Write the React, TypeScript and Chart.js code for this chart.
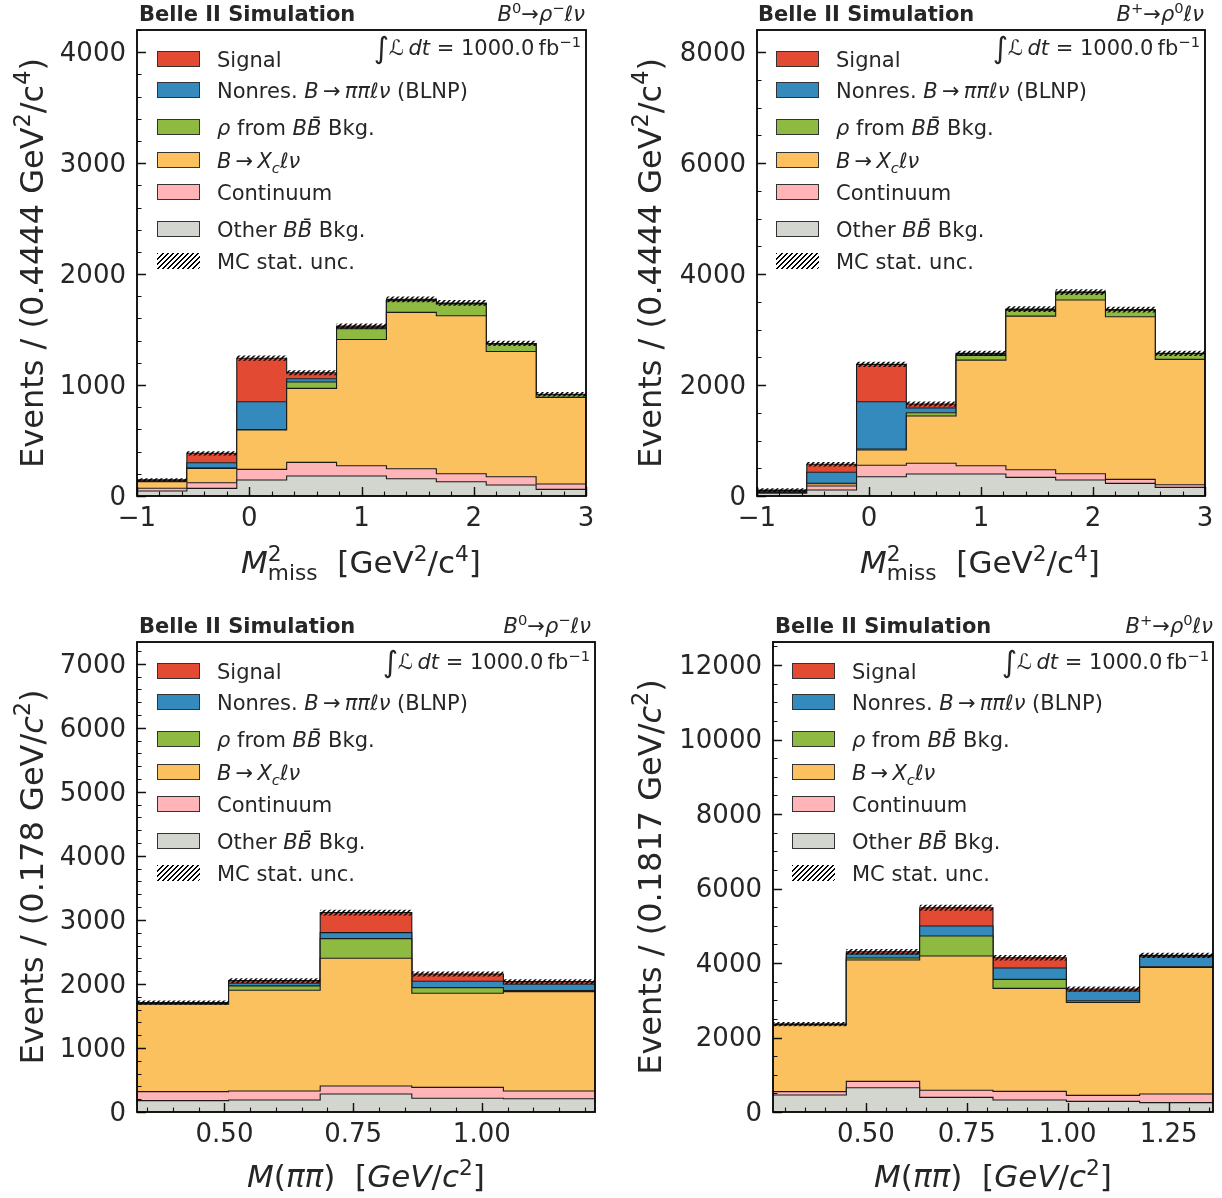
import React, { useEffect, useRef } from 'react';
import { Chart, registerables } from 'chart.js';

Chart.register(...registerables);
Chart.defaults.font.family = "'DejaVu Sans', sans-serif";

// ---------------- DATA ----------------
// Component order (bottom -> top)
const COMPONENT_NAMES = ['Other BB̄ Bkg.', 'Continuum', 'B→Xcℓν', 'ρ from BB̄ Bkg.', 'Nonres. B→ππℓν (BLNP)', 'Signal'];
const COMPONENT_COLORS = ['#D3D5CF', '#FFB5B8', '#FBC15E', '#8EBA42', '#348ABD', '#E24A33'];

// Panel 1: B0 -> rho- l nu, M2miss
const P1_OTHER = [45, 69, 144, 180, 180, 156, 129, 99, 60];
const P1_CONT = [25, 51, 96, 123, 93, 90, 72, 75, 48];
const P1_XC = [60, 129, 355, 667, 1138, 1409, 1423, 1129, 781];
const P1_RHO = [2, 3, 5, 57, 96, 105, 106, 66, 24];
const P1_NONRES = [5, 48, 249, 30, 8, 5, 4, 3, 2];
const P1_SIGNAL = [10, 85, 393, 54, 16, 7, 6, 3, 2];
const P1_UNC = [13, 19, 24, 22, 24, 26, 26, 24, 21];
const P1_X_TICKS = [-1, 0, 1, 2, 3];
const P1_X_LABELS = ['−1', '0', '1', '2', '3'];
const P1_Y_TICKS = [0, 1000, 2000, 3000, 4000];

// Panel 2: B+ -> rho0 l nu, M2miss
const P2_OTHER = [50, 108, 348, 396, 396, 336, 288, 228, 156];
const P2_CONT = [15, 72, 205, 193, 150, 138, 114, 72, 48];
const P2_XC = [20, 40, 276, 852, 1904, 2769, 3130, 2931, 2258];
const P2_RHO = [3, 10, 18, 60, 85, 108, 131, 120, 105];
const P2_NONRES = [10, 197, 853, 85, 20, 10, 7, 5, 3];
const P2_SIGNAL = [8, 144, 672, 72, 16, 8, 5, 3, 2];
const P2_UNC = [32, 40, 48, 45, 48, 51, 53, 51, 48];
const P2_X_TICKS = [-1, 0, 1, 2, 3];
const P2_X_LABELS = ['−1', '0', '1', '2', '3'];
const P2_Y_TICKS = [0, 2000, 4000, 6000, 8000];

// Panel 3: B0 -> rho- l nu, M(pipi)
const P3_OTHER = [177, 187, 281, 214, 208];
const P3_CONT = [141, 141, 125, 171, 120];
const P3_XC = [1364, 1573, 1995, 1469, 1552];
const P3_RHO = [10, 68, 307, 89, 15];
const P3_NONRES = [10, 41, 94, 99, 100];
const P3_SIGNAL = [6, 42, 313, 114, 41];
const P3_UNC = [35, 38, 45, 38, 38];
const P3_X_TICKS = [0.5, 0.75, 1.0];
const P3_X_LABELS = ['0.50', '0.75', '1.00'];
const P3_Y_TICKS = [0, 1000, 2000, 3000, 4000, 5000, 6000, 7000];

// Panel 4: B+ -> rho0 l nu, M(pipi)
const P4_OTHER = [456, 653, 394, 322, 286, 251];
const P4_CONT = [90, 170, 188, 233, 161, 232];
const P4_XC = [1790, 3257, 3606, 2765, 2497, 3401];
const P4_RHO = [10, 54, 537, 242, 45, 18];
const P4_NONRES = [10, 108, 268, 304, 259, 268];
const P4_SIGNAL = [5, 62, 492, 277, 54, 36];
const P4_UNC = [56, 72, 80, 72, 67, 72];
const P4_X_TICKS = [0.5, 0.75, 1.0, 1.25];
const P4_X_LABELS = ['0.50', '0.75', '1.00', '1.25'];
const P4_Y_TICKS = [0, 2000, 4000, 6000, 8000, 10000, 12000];

const TEXT = '#262626';

// ---------------- HELPERS ----------------
function makeHatch(): CanvasPattern | string {
  const s = 5;
  const c = document.createElement('canvas');
  c.width = s;
  c.height = s;
  const g = c.getContext('2d');
  if (!g) return 'rgba(0,0,0,0.5)';
  g.strokeStyle = '#000';
  g.lineWidth = 1.5;
  g.beginPath();
  g.moveTo(0, s); g.lineTo(s, 0);
  g.moveTo(-1, 1); g.lineTo(1, -1);
  g.moveTo(s - 1, s + 1); g.lineTo(s + 1, s - 1);
  g.stroke();
  return g.createPattern(c, 'repeat') || '#000';
}

function histPoints(edges: number[], vals: number[]) {
  const pts = vals.map((v, i) => ({ x: edges[i], y: v }));
  pts.push({ x: edges[vals.length], y: vals[vals.length - 1] });
  return pts;
}

const frameTicksPlugin = {
  id: 'frameTicks',
  afterDatasetsDraw(chart: any, _args: any, opts: any) {
    const { ctx, chartArea: a, scales } = chart;
    const xs = scales.x;
    const ys = scales.y;
    ctx.save();
    ctx.strokeStyle = '#111';
    ctx.lineWidth = 1.1;
    ctx.beginPath();
    const xMinor = opts.xMinor as number;
    const yMinor = opts.yMinor as number;
    for (let k = Math.ceil(xs.min / xMinor - 1e-9); k * xMinor <= xs.max + 1e-9; k++) {
      const px = Math.round(xs.getPixelForValue(k * xMinor)) + 0.5;
      ctx.moveTo(px, a.bottom);
      ctx.lineTo(px, a.bottom - 4.5);
    }
    for (let k = Math.ceil(ys.min / yMinor - 1e-9); k * yMinor <= ys.max + 1e-9; k++) {
      const py = Math.round(ys.getPixelForValue(k * yMinor)) + 0.5;
      ctx.moveTo(a.left, py);
      ctx.lineTo(a.left + 4.5, py);
    }
    ctx.stroke();
    ctx.lineWidth = 1.4;
    ctx.beginPath();
    xs.ticks.forEach((t: any) => {
      const px = Math.round(xs.getPixelForValue(t.value)) + 0.5;
      ctx.moveTo(px, a.bottom);
      ctx.lineTo(px, a.bottom - 9);
    });
    ys.ticks.forEach((t: any) => {
      const py = Math.round(ys.getPixelForValue(t.value)) + 0.5;
      ctx.moveTo(a.left, py);
      ctx.lineTo(a.left + 9, py);
    });
    ctx.stroke();
    ctx.lineWidth = 1.8;
    ctx.strokeStyle = '#000';
    ctx.strokeRect(a.left, a.top, a.right - a.left, a.bottom - a.top);
    ctx.restore();
  },
};

type Box = { left: number; top: number; width: number; height: number; padTop: number; padRight: number; yW: number; xH: number };

type PanelProps = {
  box: Box;
  xMin: number;
  xMax: number;
  yMax: number;
  xTicks: number[];
  xLabels: string[];
  yTicks: number[];
  xMinor: number;
  yMinor: number;
  series: number[][];
  unc: number[];
};

function HistPanel(p: PanelProps) {
  const ref = useRef<HTMLCanvasElement>(null);
  useEffect(() => {
    const canvas = ref.current;
    if (!canvas) return;
    const hatch = makeHatch();
    const n = p.series[0].length;
    const edges = Array.from({ length: n + 1 }, (_, i) => p.xMin + (i * (p.xMax - p.xMin)) / n);
    const totals = p.series[0].map((_, i) => p.series.reduce((s, arr) => s + arr[i], 0));
    const datasets: any[] = p.series.map((vals, k) => ({
      label: COMPONENT_NAMES[k],
      data: histPoints(edges, vals),
      stepped: true,
      fill: k === 0 ? 'origin' : '-1',
      backgroundColor: COMPONENT_COLORS[k],
      borderColor: '#1a1a1a',
      borderWidth: 1.1,
      pointRadius: 0,
      pointHoverRadius: 0,
      order: 0,
    }));
    datasets.push({
      label: 'unc-lo',
      data: histPoints(edges, totals.map((t, i) => t - p.unc[i])),
      stack: 'lo',
      stepped: true,
      fill: false,
      borderColor: 'rgba(0,0,0,0)',
      borderWidth: 1,
      pointRadius: 0,
      order: -1,
    });
    datasets.push({
      label: 'MC stat. unc.',
      data: histPoints(edges, totals.map((t, i) => t + p.unc[i])),
      stack: 'hi',
      stepped: true,
      fill: '-1',
      backgroundColor: hatch,
      borderColor: 'rgba(0,0,0,0)',
      borderWidth: 1,
      pointRadius: 0,
      order: -1,
    });
    const chart = new Chart(canvas, {
      type: 'line',
      data: { datasets },
      options: {
        responsive: false,
        animation: false,
        events: [],
        layout: { padding: { top: p.box.padTop, right: p.box.padRight, left: 0, bottom: 0 } },
        plugins: {
          legend: { display: false },
          tooltip: { enabled: false },
          frameTicks: { xMinor: p.xMinor, yMinor: p.yMinor },
        } as any,
        scales: {
          x: {
            type: 'linear',
            min: p.xMin,
            max: p.xMax,
            grid: { display: false, drawTicks: false },
            border: { display: false },
            ticks: {
              font: { size: 26 },
              color: TEXT,
              padding: 8,
              maxRotation: 0,
              autoSkip: false,
              callback: (_v: any, i: number) => p.xLabels[i],
            },
            afterBuildTicks: (s: any) => {
              s.ticks = p.xTicks.map((v) => ({ value: v }));
            },
            afterFit: (s: any) => {
              s.height = p.box.xH;
            },
          },
          y: {
            type: 'linear',
            stacked: true,
            min: 0,
            max: p.yMax,
            grid: { display: false, drawTicks: false },
            border: { display: false },
            ticks: {
              font: { size: 26 },
              color: TEXT,
              padding: 11,
              labelOffset: 2,
              autoSkip: false,
              callback: (v: any) => String(v),
            },
            afterBuildTicks: (s: any) => {
              s.ticks = p.yTicks.map((v) => ({ value: v }));
            },
            afterFit: (s: any) => {
              s.width = p.box.yW;
            },
          },
        } as any,
      },
      plugins: [frameTicksPlugin as any],
    });
    return () => chart.destroy();
  }, []);
  return (
    <canvas
      ref={ref}
      width={p.box.width}
      height={p.box.height}
      style={{ position: 'absolute', left: p.box.left, top: p.box.top, width: p.box.width, height: p.box.height }}
    />
  );
}

// ---------------- TEXT PIECES ----------------
const supS: React.CSSProperties = { fontSize: '0.7em', lineHeight: 0, verticalAlign: '0.55em' };
const subS: React.CSSProperties = { fontSize: '0.7em', lineHeight: 0, verticalAlign: '-0.3em' };
const I = (t: string) => <i>{t}</i>;
const BBbar = (
  <i>
    B{'B\u0304'}
  </i>
);

function Txt(props: { x: number; y: number; align?: 'left' | 'right' | 'center'; size: number; bold?: boolean; rotate?: boolean; children: React.ReactNode }) {
  const { x, y, align = 'left', size, bold, rotate, children } = props;
  let tr = 'translateY(-50%)';
  if (align === 'right') tr = 'translate(-100%,-50%)';
  if (align === 'center') tr = 'translate(-50%,-50%)';
  if (rotate) tr = 'translate(-50%,-50%) rotate(-90deg)';
  const dx = rotate ? 2 : 0;
  const dy = rotate ? 0 : 2;
  return (
    <div
      style={{
        position: 'absolute',
        left: x + dx,
        top: y + dy,
        transform: tr,
        whiteSpace: 'nowrap',
        fontSize: size,
        lineHeight: 1.2,
        fontWeight: bold ? 'bold' : 'normal',
        color: TEXT,
        fontFamily: "'DejaVu Sans', sans-serif",
      }}
    >
      {children}
    </div>
  );
}

const LEGEND_ITEMS: { color: string | null; label: React.ReactNode }[] = [
  { color: '#E24A33', label: 'Signal' },
  { color: '#348ABD', label: <>Nonres. {I('B')}{'\u2009→\u2009'}{I('ππℓν')} (BLNP)</> },
  { color: '#8EBA42', label: <>{I('ρ')} from {BBbar} Bkg.</> },
  { color: '#FBC15E', label: <>{I('B')}{'\u2009→\u2009'}{I('X')}<span style={subS}><i>c</i></span>{I('ℓν')}</> },
  { color: '#FFB5B8', label: 'Continuum' },
  { color: '#D3D5CF', label: <>Other {BBbar} Bkg.</> },
  { color: null, label: 'MC stat. unc.' },
];

function Legend(props: { x: number; rows: number[] }) {
  return (
    <>
      {LEGEND_ITEMS.map((it, i) => (
        <React.Fragment key={i}>
          <div
            style={{
              position: 'absolute',
              left: props.x,
              top: props.rows[i] - 8,
              width: 43,
              height: 16,
              boxSizing: 'border-box',
              border: it.color ? '1px solid #333' : 'none',
              background: it.color
                ? it.color
                : 'repeating-linear-gradient(135deg, #000 0px, #000 1.4px, rgba(0,0,0,0) 1.4px, rgba(0,0,0,0) 3.6px)',
            }}
          />
          <Txt x={props.x + 60} y={props.rows[i]} size={21}>
            {it.label}
          </Txt>
        </React.Fragment>
      ))}
    </>
  );
}

const Lumi = (
  <>
    <span style={{ fontSize: '1.4em', lineHeight: 0, verticalAlign: '-0.08em' }}>∫</span>ℒ{'\u2009'}
    <i>dt</i> = 1000.0{'\u2009'}fb<span style={supS}>−1</span>
  </>
);

const HeaderB0 = (
  <>
    <i>B</i><span style={supS}>0</span>→<i>ρ</i><span style={supS}>−</span>
    <i>ℓν</i>
  </>
);
const HeaderBp = (
  <>
    <i>B</i><span style={supS}>+</span>→<i>ρ</i><span style={supS}>0</span>
    <i>ℓν</i>
  </>
);

const XTitleMiss = (
  <>
    <i>M</i>
    <span style={supS}>2</span>
    <span style={{ ...subS, marginLeft: '-0.636em' }}>miss</span>
    {'\u00a0\u00a0'}[GeV<span style={supS}>2</span>/c<span style={supS}>4</span>]
  </>
);
const XTitlePiPi = (
  <>
    <i>M</i>(<i>ππ</i>){'\u00a0\u00a0'}[<i>GeV</i>/<i>c</i>
    <span style={supS}>2</span>]
  </>
);

export default function App() {
  const rowsTop = [59, 90, 127, 160, 192, 229, 261];
  const rowsBot = rowsTop.map((r) => r + 612);
  return (
    <div style={{ position: 'absolute', left: 0, top: 0, width: 1222, height: 1198, background: '#fff', overflow: 'hidden' }}>
      <HistPanel
        box={{ left: 0, top: 0, width: 611, height: 600, padTop: 30, padRight: 25, yW: 137, xH: 104 }}
        xMin={-1}
        xMax={3}
        yMax={4200}
        xTicks={P1_X_TICKS}
        xLabels={P1_X_LABELS}
        yTicks={P1_Y_TICKS}
        xMinor={0.2}
        yMinor={200}
        series={[P1_OTHER, P1_CONT, P1_XC, P1_RHO, P1_NONRES, P1_SIGNAL]}
        unc={P1_UNC}
      />
      <HistPanel
        box={{ left: 611, top: 0, width: 611, height: 600, padTop: 30, padRight: 17, yW: 146, xH: 104 }}
        xMin={-1}
        xMax={3}
        yMax={8400}
        xTicks={P2_X_TICKS}
        xLabels={P2_X_LABELS}
        yTicks={P2_Y_TICKS}
        xMinor={0.2}
        yMinor={500}
        series={[P2_OTHER, P2_CONT, P2_XC, P2_RHO, P2_NONRES, P2_SIGNAL]}
        unc={P2_UNC}
      />
      <HistPanel
        box={{ left: 0, top: 600, width: 611, height: 598, padTop: 42, padRight: 16, yW: 137, xH: 86 }}
        xMin={0.33}
        xMax={1.22}
        yMax={7340}
        xTicks={P3_X_TICKS}
        xLabels={P3_X_LABELS}
        yTicks={P3_Y_TICKS}
        xMinor={0.05}
        yMinor={200}
        series={[P3_OTHER, P3_CONT, P3_XC, P3_RHO, P3_NONRES, P3_SIGNAL]}
        unc={P3_UNC}
      />
      <HistPanel
        box={{ left: 611, top: 600, width: 611, height: 598, padTop: 42, padRight: 9, yW: 162, xH: 86 }}
        xMin={0.27}
        xMax={1.36}
        yMax={12620}
        xTicks={P4_X_TICKS}
        xLabels={P4_X_LABELS}
        yTicks={P4_Y_TICKS}
        xMinor={0.05}
        yMinor={500}
        series={[P4_OTHER, P4_CONT, P4_XC, P4_RHO, P4_NONRES, P4_SIGNAL]}
        unc={P4_UNC}
      />

      {/* Headers */}
      <Txt x={139} y={13} size={21} bold>Belle II Simulation</Txt>
      <Txt x={585} y={13} size={21} align="right">{HeaderB0}</Txt>
      <Txt x={758} y={13} size={21} bold>Belle II Simulation</Txt>
      <Txt x={1204} y={13} size={21} align="right">{HeaderBp}</Txt>
      <Txt x={139} y={625} size={21} bold>Belle II Simulation</Txt>
      <Txt x={591} y={625} size={21} align="right">{HeaderB0}</Txt>
      <Txt x={775} y={625} size={21} bold>Belle II Simulation</Txt>
      <Txt x={1213} y={625} size={21} align="right">{HeaderBp}</Txt>

      {/* Luminosity */}
      <Txt x={581} y={47} size={21} align="right">{Lumi}</Txt>
      <Txt x={1200} y={47} size={21} align="right">{Lumi}</Txt>
      <Txt x={590} y={661} size={21} align="right">{Lumi}</Txt>
      <Txt x={1209} y={661} size={21} align="right">{Lumi}</Txt>

      {/* Legends */}
      <Legend x={157} rows={rowsTop} />
      <Legend x={776} rows={rowsTop} />
      <Legend x={157} rows={rowsBot} />
      <Legend x={792} rows={rowsBot} />

      {/* Axis titles */}
      <Txt x={30} y={263} size={32} rotate>
        Events / (0.4444 GeV<span style={supS}>2</span>/c<span style={supS}>4</span>)
      </Txt>
      <Txt x={648} y={263} size={32} rotate>
        Events / (0.4444 GeV<span style={supS}>2</span>/c<span style={supS}>4</span>)
      </Txt>
      <Txt x={30} y={877} size={32} rotate>
        Events / (0.178 GeV/<i>c</i><span style={supS}>2</span>)
      </Txt>
      <Txt x={648} y={877} size={32} rotate>
        Events / (0.1817 GeV/<i>c</i><span style={supS}>2</span>)
      </Txt>
      <Txt x={361} y={561} size={31} align="center">{XTitleMiss}</Txt>
      <Txt x={980} y={561} size={31} align="center">{XTitleMiss}</Txt>
      <Txt x={366} y={1175} size={31} align="center">{XTitlePiPi}</Txt>
      <Txt x={993} y={1175} size={31} align="center">{XTitlePiPi}</Txt>
    </div>
  );
}
